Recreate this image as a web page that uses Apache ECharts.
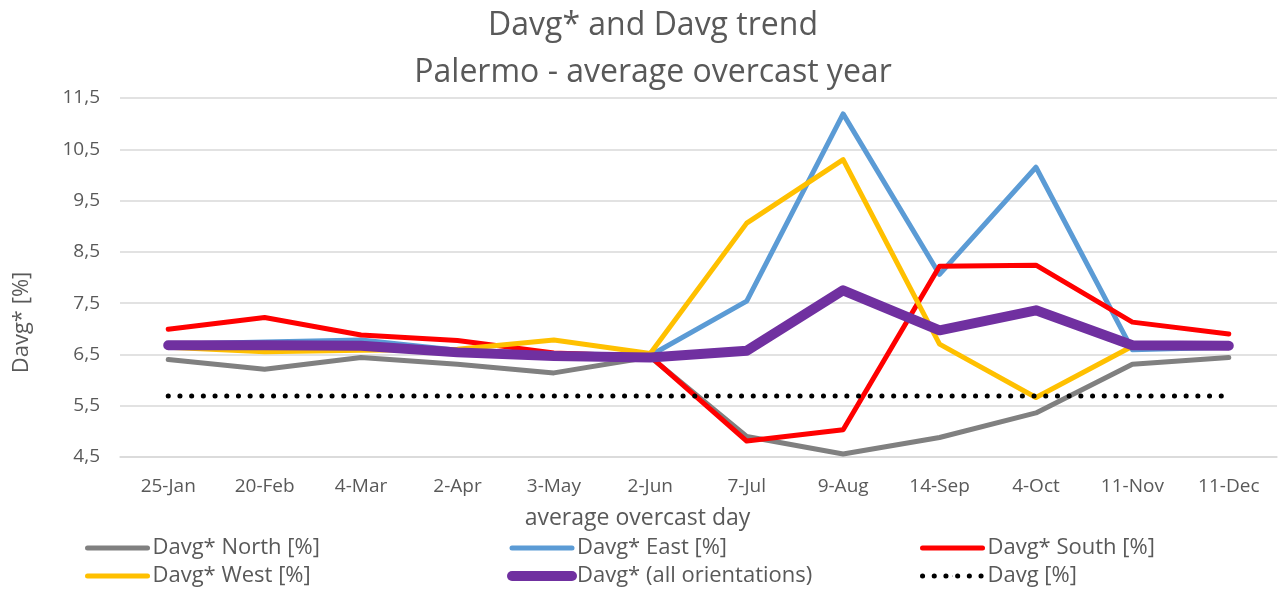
<!DOCTYPE html>
<html>
<head>
<meta charset="utf-8">
<script src="https://cdn.jsdelivr.net/npm/echarts@6/dist/echarts.min.js"></script>
<style>
  html, body { margin: 0; padding: 0; background: #fff; }
  #chart { width: 1279px; height: 590px; }
</style>
</head>
<body>
<div id="chart"></div>
<script>
// Average overcast days through the year
const days = ['25-Jan', '20-Feb', '4-Mar', '2-Apr', '3-May', '2-Jun', '7-Jul', '9-Aug', '14-Sep', '4-Oct', '11-Nov', '11-Dec'];

// Davg* per orientation [%]
const north = [6.40, 6.21, 6.44, 6.31, 6.14, 6.45, 4.90, 4.56, 4.88, 5.36, 6.31, 6.44];
const east  = [6.70, 6.74, 6.78, 6.58, 6.52, 6.48, 7.54, 11.19, 8.06, 10.15, 6.59, 6.64];
const south = [6.99, 7.22, 6.88, 6.77, 6.53, 6.46, 4.81, 5.03, 8.22, 8.24, 7.13, 6.90];
const west  = [6.64, 6.55, 6.58, 6.60, 6.78, 6.52, 9.06, 10.30, 6.70, 5.66, 6.66, 6.66];
const allOrientations = [6.68, 6.68, 6.67, 6.54, 6.47, 6.44, 6.57, 7.75, 6.97, 7.36, 6.68, 6.67];

// Davg [%], constant over the year
const davgValue = 5.69;
const davg = days.map(() => davgValue);

// Y axis range
const yMin = 4.5, yMax = 11.5, yStep = 0.5;

const textGrey = '#595959';
const gridGrey = '#d9d9d9';
const font = 'Open Sans';

const chart = echarts.init(document.getElementById('chart'));

function lineSeries(name, data, color, width, z) {
  return {
    name: name,
    type: 'line',
    data: data,
    symbol: 'none',
    z: z,
    lineStyle: { color: color, width: width, cap: 'round', join: 'round' },
    itemStyle: { color: color },
    emphasis: { disabled: true }
  };
}

const legendText = { color: textGrey, fontSize: 22, fontFamily: font };
function legendColumn(left, names) {
  return {
    orient: 'vertical',
    left: left,
    top: 534,
    height: 70,
    padding: 0,
    itemGap: 0,
    itemWidth: 60,
    // a tiny item height keeps the legend marker hidden under the line stroke
    itemHeight: 1,
    data: names,
    textStyle: Object.assign({ padding: [2, 0, 2, 0], lineHeight: 24 }, legendText),
    lineStyle: { width: 'inherit', type: 'inherit', cap: 'inherit' },
    selectedMode: false
  };
}

const titleStyle = { color: textGrey, fontSize: 32, fontWeight: 'normal', fontFamily: font };

chart.setOption({
  animation: false,
  backgroundColor: '#fff',
  textStyle: { fontFamily: font },
  title: [
    { text: 'Davg* and Davg trend', left: 648, textAlign: 'center', top: 5, textStyle: titleStyle },
    { text: 'Palermo - average overcast year', left: 648, textAlign: 'center', top: 52, textStyle: titleStyle }
  ],
  grid: { left: 120, right: 2, top: 98, bottom: 133, containLabel: false },
  xAxis: {
    type: 'category',
    data: days,
    boundaryGap: true,
    name: 'average overcast day',
    nameLocation: 'middle',
    nameGap: 50,
    nameTextStyle: { color: textGrey, fontSize: 23, fontFamily: font, padding: [0, 122, 0, 0] },
    axisLine: { lineStyle: { color: gridGrey, width: 1.5 } },
    axisTick: { show: false },
    axisLabel: { color: textGrey, fontSize: 19, fontFamily: font, margin: 20, interval: 0 },
    splitLine: { show: false }
  },
  yAxis: {
    type: 'value',
    min: yMin,
    max: yMax,
    interval: yStep,
    name: 'Davg* [%]',
    nameLocation: 'middle',
    nameGap: 87,
    nameRotate: 90,
    nameTextStyle: { color: textGrey, fontSize: 22, fontFamily: font, padding: [0, 90, 0, 0] },
    axisLine: { show: false },
    axisTick: { show: false },
    axisLabel: {
      color: textGrey, fontSize: 19, fontFamily: font, margin: 20,
      // only the half-unit ticks (4,5 ; 5,5 ; ...) carry a label
      formatter: function (v) {
        const half = Math.abs((v * 2) % 2 - 1) < 1e-6;
        return half ? v.toFixed(1).replace('.', ',') : '';
      }
    },
    splitLine: {
      show: true,
      // gridlines alternate: visible on half-unit ticks, hidden on whole units
      lineStyle: { color: [gridGrey, 'rgba(0,0,0,0)'], width: 1.5 }
    }
  },
  legend: [
    legendColumn(85, ['Davg* North [%]', 'Davg* West [%]']),
    legendColumn(507, ['Davg* East [%]', 'Davg* (all orientations)']),
    legendColumn(920, ['Davg* South [%]', 'Davg [%]'])
  ],
  series: [
    lineSeries('Davg* North [%]', north, '#808080', 5, 2),
    lineSeries('Davg* East [%]', east, '#5b9bd5', 5, 3),
    lineSeries('Davg* South [%]', south, '#ff0000', 5, 4),
    lineSeries('Davg* West [%]', west, '#ffc000', 5, 5),
    lineSeries('Davg* (all orientations)', allOrientations, '#7030a0', 10, 6),
    {
      name: 'Davg [%]',
      type: 'line',
      data: davg,
      symbol: 'none',
      z: 7,
      lineStyle: { color: '#000000', width: 5, type: [0.1, 11.6], cap: 'round' },
      itemStyle: { color: '#000000' },
      emphasis: { disabled: true }
    }
  ]
});
</script>
</body>
</html>
